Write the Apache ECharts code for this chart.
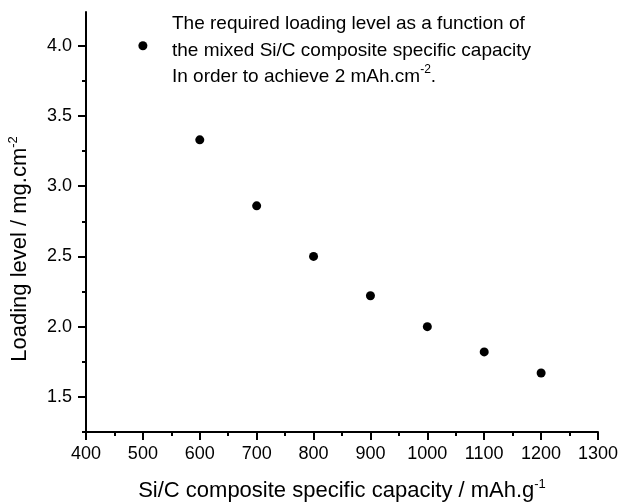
<!DOCTYPE html>
<html>
<head>
<meta charset="utf-8">
<script src="https://cdn.jsdelivr.net/npm/echarts@6/dist/echarts.min.js"></script>
<style>html,body{margin:0;padding:0;background:#fff}#c{width:621px;height:503px}</style>
</head>
<body>
<div id="c"></div>
<script>
// Data
var capacity = [500, 600, 700, 800, 900, 1000, 1100, 1200];
var loading = [4.0, 3.33, 2.86, 2.5, 2.22, 2.0, 1.82, 1.67];
var yMajorTicks = [1.5, 2.0, 2.5, 3.0, 3.5, 4.0];
var yMinorTicks = [1.25, 1.75, 2.25, 2.75, 3.25, 3.75];
var legendLines = [
  'The required loading level as a function of',
  'the mixed Si/C composite specific capacity',
  'In order to achieve 2 mAh.cm'
];
var xName = 'Si/C composite specific capacity / mAh.g';
var yName = 'Loading level / mg.cm';

var FONT = '"Liberation Sans", Arial, Helvetica, sans-serif';
var chart = echarts.init(document.getElementById('c'));
var points = capacity.map(function (c, i) { return [c, loading[i]]; });

chart.setOption({
  animation: false,
  backgroundColor: '#fff',
  grid: { left: 86, top: 12, right: 23, bottom: 71, containLabel: false, outerBoundsMode: 'none' },
  xAxis: {
    type: 'value', min: 400, max: 1300, interval: 100,
    name: '{a|' + xName + '}{s|-1}',
    nameLocation: 'middle', nameGap: 46,
    nameTextStyle: {
      rich: {
        a: { fontFamily: FONT, fontSize: 22, color: '#000', lineHeight: 26 },
        s: { fontFamily: FONT, fontSize: 13, color: '#000', verticalAlign: 'top', lineHeight: 14 }
      }
    },
    axisLine: { lineStyle: { color: '#000', width: 2 } },
    axisTick: { inside: false, length: 8, lineStyle: { color: '#000', width: 2 } },
    minorTick: { show: true, splitNumber: 2, length: 4, lineStyle: { color: '#000', width: 2 } },
    splitLine: { show: false },
    axisLabel: {
      fontFamily: FONT, fontSize: 18, color: '#000', margin: 13,
      formatter: function (v) { return String(v); }
    }
  },
  yAxis: [{
    type: 'value', min: 1.25, max: 4.24,
    axisLine: { show: true, lineStyle: { color: '#000', width: 2 } },
    axisTick: { show: true, length: 8, customValues: yMajorTicks, lineStyle: { color: '#000', width: 2 } },
    splitLine: { show: false },
    axisLabel: {
      fontFamily: FONT, fontSize: 18, color: '#000', margin: 14,
      customValues: yMajorTicks,
      formatter: function (v) { return v.toFixed(1); }
    }
  }, {
    type: 'value', min: 1.25, max: 4.24, position: 'left',
    axisLine: { show: false },
    axisTick: { show: true, length: 4, customValues: yMinorTicks, lineStyle: { color: '#000', width: 2 } },
    splitLine: { show: false },
    axisLabel: { show: false }
  }],
  series: [{
    type: 'scatter',
    data: points,
    symbol: 'circle',
    symbolSize: 9,
    itemStyle: { color: '#000', opacity: 1 }
  }],
  graphic: [{
    type: 'text',
    left: 172, top: 11,
    style: {
      text: legendLines[0] + '\n' + legendLines[1] + '\n' + legendLines[2] + '{s|-2}.',
      fontFamily: FONT, fontSize: 19, fill: '#000', lineHeight: 26.5,
      rich: {
        s: { fontFamily: FONT, fontSize: 12, fill: '#000', verticalAlign: 'top', lineHeight: 14 }
      }
    }
  }, {
    type: 'text',
    x: 20, y: 249, rotation: Math.PI / 2,
    style: {
      text: '{a|' + yName + '}{s|-2}',
      align: 'center', verticalAlign: 'middle',
      rich: {
        a: { fontFamily: FONT, fontSize: 22, fill: '#000', lineHeight: 26 },
        s: { fontFamily: FONT, fontSize: 13, fill: '#000', verticalAlign: 'top', lineHeight: 14 }
      }
    }
  }]
});
</script>
</body>
</html>
